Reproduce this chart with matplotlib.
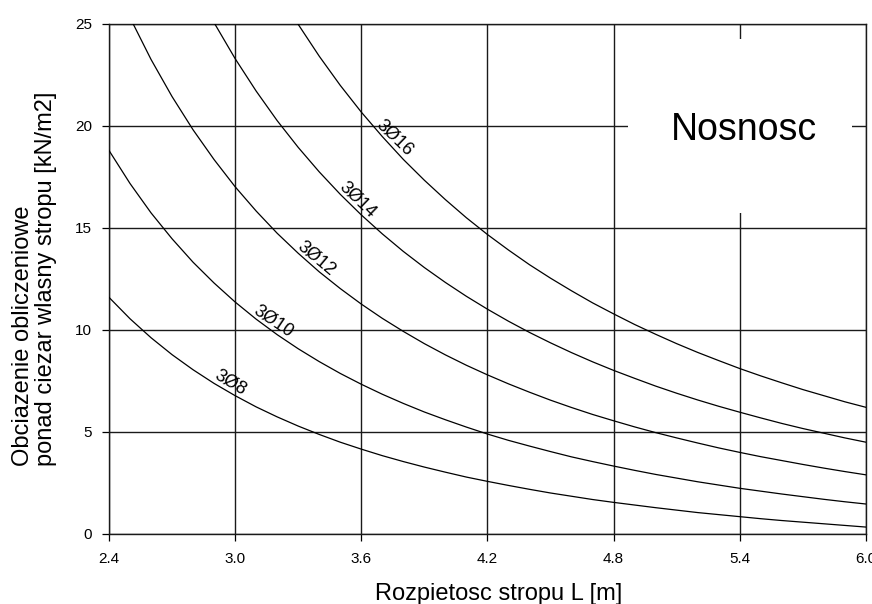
import matplotlib
matplotlib.use("Agg")
import matplotlib.pyplot as plt
from matplotlib.patches import Rectangle
from matplotlib import font_manager

# Span of the slab [m], sampled every 0.1 m
span = [round(2.4 + 0.1 * i, 1) for i in range(37)]

# Design load above self-weight [kN/m2] for each reinforcement variant
load_3fi8 = [11.60, 10.55, 9.62, 8.79, 8.05, 7.38, 6.78, 6.23, 5.74, 5.29,
             4.88, 4.50, 4.16, 3.84, 3.55, 3.28, 3.03, 2.79, 2.58, 2.38,
             2.19, 2.01, 1.85, 1.69, 1.55, 1.42, 1.29, 1.17, 1.05, 0.95,
             0.85, 0.75, 0.66, 0.58, 0.50, 0.42, 0.34]
load_3fi10 = [18.80, 17.18, 15.74, 14.47, 13.32, 12.30, 11.37, 10.53, 9.77, 9.08,
              8.45, 7.87, 7.34, 6.85, 6.40, 5.98, 5.60, 5.24, 4.90, 4.59,
              4.31, 4.04, 3.78, 3.55, 3.33, 3.12, 2.92, 2.74, 2.56, 2.40,
              2.24, 2.10, 1.96, 1.83, 1.70, 1.58, 1.47]
# (curves that leave the chart at the top start at a later span)
span_3fi12 = span[1:]
load_3fi12 = [25.31, 23.26, 21.44, 19.81, 18.35, 17.02, 15.83, 14.74, 13.76,
              12.85, 12.03, 11.27, 10.57, 9.93, 9.33, 8.78, 8.27, 7.80, 7.36,
              6.95, 6.56, 6.20, 5.86, 5.55, 5.25, 4.97, 4.71, 4.46, 4.22,
              4.00, 3.79, 3.60, 3.41, 3.23, 3.06, 2.90]
span_3fi14 = span[5:]
load_3fi14 = [25.06, 23.30, 21.71, 20.26, 18.95, 17.75, 16.65, 15.64, 14.71,
              13.85, 13.06, 12.33, 11.65, 11.02, 10.43, 9.88, 9.37, 8.89, 8.44,
              8.02, 7.63, 7.25, 6.90, 6.57, 6.26, 5.97, 5.69, 5.42, 5.17,
              4.94, 4.71, 4.50]
span_3fi16 = span[8:]
load_3fi16 = [26.69, 24.98, 23.42, 21.99, 20.68, 19.48, 18.36, 17.34, 16.39,
              15.50, 14.68, 13.92, 13.20, 12.54, 11.92, 11.33, 10.79, 10.27,
              9.79, 9.33, 8.90, 8.50, 8.11, 7.75, 7.41, 7.08, 6.78, 6.48, 6.21]

series_labels = ["3Ø8", "3Ø10", "3Ø12", "3Ø14", "3Ø16"]
series_spans = [span, span, span_3fi12, span_3fi14, span_3fi16]
series_loads = [load_3fi8, load_3fi10, load_3fi12, load_3fi14, load_3fi16]
# span at which each curve carries its label, and the text angle
label_spans = [2.955, 3.16, 3.36, 3.555, 3.73]
label_angles = [-31, -34, -40, -44, -44]

x_ticks = [2.4, 3.0, 3.6, 4.2, 4.8, 5.4, 6.0]
x_tick_labels = ["2.4", "3.0", "3.6", "4.2", "4.8", "5.4", "6.0"]
y_ticks = [0, 5, 10, 15, 20, 25]
y_tick_labels = ["0", "5", "10", "15", "20", "25"]

installed = {f.name for f in font_manager.fontManager.ttflist}
main_font = "Liberation Sans" if "Liberation Sans" in installed else "DejaVu Sans"
tick_font = "Liberation Sans Narrow" if "Liberation Sans Narrow" in installed else main_font
plt.rcParams["font.family"] = [main_font, "DejaVu Sans"]

fig = plt.figure(figsize=(8.72, 6.04), dpi=100)
ax = fig.add_axes([0.125, 0.1159, 0.993 - 0.125, 0.9603 - 0.1159])

ax.set_xlim(2.4, 6.0)
ax.set_ylim(0, 25)

ax.set_xticks(x_ticks)
ax.set_xticklabels(x_tick_labels, fontfamily=tick_font, fontsize=11)
ax.set_yticks(y_ticks)
ax.set_yticklabels(y_tick_labels, fontfamily=tick_font, fontsize=11)
ax.tick_params(axis="both", direction="out", length=5, width=0.9, color="black")
ax.tick_params(axis="x", pad=8)
ax.tick_params(axis="y", pad=7)

ax.grid(True, color="#1a1a1a", linewidth=1.0)
ax.set_axisbelow(True)
for sp in ax.spines.values():
    sp.set_color("#1a1a1a")
    sp.set_linewidth(1.0)

for xs, ys, lab, ls, ang in zip(series_spans, series_loads, series_labels,
                                label_spans, label_angles):
    ax.plot(xs, ys, color="black", linewidth=0.9, zorder=3)
    # label sits on the curve, baseline along the line
    i = max(k for k in range(len(xs)) if xs[k] <= ls)
    t = (ls - xs[i]) / (xs[i + 1] - xs[i])
    ly = ys[i] + t * (ys[i + 1] - ys[i])
    ax.text(ls, ly, lab, rotation=ang, rotation_mode="anchor",
            ha="center", va="bottom", fontsize=13, zorder=4)

# title panel that blanks out the grid in the upper right corner
ax.add_patch(Rectangle((4.868, 15.74), 5.933 - 4.868, 24.26 - 15.74,
                       facecolor="white", edgecolor="none", zorder=2))
ax.text(5.42, 19.8, "Nosnosc", ha="center", va="center", fontsize=27, zorder=5)

ax.set_xlabel("Rozpietosc stropu L [m]", fontsize=17, labelpad=12)
ax.xaxis.label.set_x(0.515)
ax.set_ylabel("Obciazenie obliczeniowe\nponad ciezar wlasny stropu [kN/m2]",
              fontsize=17, labelpad=13, linespacing=1.05,
              multialignment="left")

fig.savefig("out.png", dpi=100)
